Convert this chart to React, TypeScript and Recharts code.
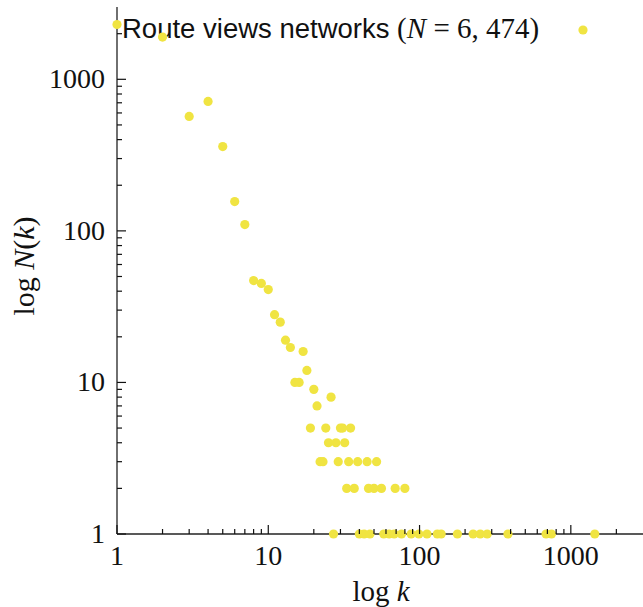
import { ScatterChart, Scatter, XAxis, YAxis, Customized } from 'recharts';

// degree k and number of networks N(k) with that degree
const degree = [
  1, 2, 3, 4, 5, 6, 7, 8, 9, 10,
  11, 12, 13, 14, 15, 16, 17, 18, 19, 20,
  21, 22, 23, 24, 25, 26, 27, 28, 29, 30,
  31, 32, 33, 34, 35, 37, 39, 40, 43, 45,
  46, 47, 50, 52, 56, 58, 63, 68, 69, 76,
  80, 88, 99, 112, 131, 139, 178, 226, 252, 280,
  384, 686, 745, 1440,
];
const count = [
  2300, 1900, 569, 715, 360, 156, 110, 47, 45, 41,
  28, 25, 19, 17, 10, 10, 16, 12, 5, 9,
  7, 3, 3, 5, 4, 8, 1, 4, 3, 5,
  5, 4, 2, 3, 5, 2, 3, 1, 1, 3,
  2, 1, 2, 3, 2, 1, 1, 1, 2, 1,
  2, 1, 1, 1, 1, 1, 1, 1, 1, 1,
  1, 1, 1, 1,
];

const majorTicks = [1, 10, 100, 1000];
const axisTicks = [
  1, 2, 3, 4, 5, 6, 7, 8, 9,
  10, 20, 30, 40, 50, 60, 70, 80, 90,
  100, 200, 300, 400, 500, 600, 700, 800, 900,
  1000, 2000,
];

const seriesName = 'Route views networks';
const totalN = '6, 474';

const points = degree.map((k, i) => ({ k, n: count[i] }));

const YELLOW = '#F0E442';
const SERIF = '"Liberation Serif", "DejaVu Serif", serif';
const SANS = '"Liberation Sans", "DejaVu Sans", sans-serif';

function XTick(props: any) {
  const { x, y, payload } = props;
  const major = majorTicks.includes(payload.value);
  return (
    <g>
      <path d={`M${x},${y}V${y - (major ? 9 : 5)}`} stroke="#111" strokeWidth={1.2} fill="none" />
      {major && (
        <text x={x} y={y + 31} textAnchor="middle" fontFamily={SERIF} fontSize={28} fill="#111">
          {payload.value}
        </text>
      )}
    </g>
  );
}

function YTick(props: any) {
  const { x, y, payload } = props;
  const major = majorTicks.includes(payload.value);
  return (
    <g>
      <path d={`M${x},${y}H${x + (major ? 9 : 5)}`} stroke="#111" strokeWidth={1.2} fill="none" />
      {major && (
        <text x={x - 12} y={y + 9} textAnchor="end" fontFamily={SERIF} fontSize={28} fill="#111">
          {payload.value}
        </text>
      )}
    </g>
  );
}

function Dot(props: any) {
  const { cx, cy } = props;
  return <circle cx={cx} cy={cy} r={4.6} fill={YELLOW} />;
}

function Overlay() {
  return (
    <g>
      <text x={122} y={38} fontFamily={SANS} fontSize={27.5} fill="#111">
        {seriesName} <tspan fontFamily={SERIF} fontSize={29}>(<tspan fontStyle="italic">N</tspan> = {totalN})</tspan>
      </text>
      <circle cx={583} cy={30} r={4.6} fill={YELLOW} />
      <text x={381} y={601} textAnchor="middle" fontFamily={SERIF} fontSize={29} fill="#111">
        log <tspan fontStyle="italic">k</tspan>
      </text>
      <text
        x={0}
        y={0}
        transform="translate(34, 266) rotate(-90)"
        textAnchor="middle"
        fontFamily={SERIF}
        fontSize={30}
        fill="#111"
      >
        log <tspan fontStyle="italic">N</tspan>(<tspan fontStyle="italic">k</tspan>)
      </text>
    </g>
  );
}

export default function App() {
  return (
    <div style={{ position: 'absolute', left: 0, top: 0, background: '#fff' }}>
      <ScatterChart width={643} height={607} margin={{ top: 7, right: 0, left: 0, bottom: 0 }}>
        <XAxis
          type="number"
          dataKey="k"
          scale="log"
          domain={[1, 3000]}
          ticks={axisTicks}
          interval={0}
          height={73}
          tickSize={0}
          tickMargin={0}
          tickLine={false}
          tick={<XTick />}
          axisLine={{ stroke: '#222', strokeWidth: 1.3 }}
        />
        <YAxis
          type="number"
          dataKey="n"
          scale="log"
          domain={[1, 3000]}
          ticks={axisTicks}
          interval={0}
          width={117}
          tickSize={0}
          tickMargin={0}
          tickLine={false}
          tick={<YTick />}
          axisLine={{ stroke: '#222', strokeWidth: 1.3 }}
        />
        <Scatter data={points} fill={YELLOW} shape={<Dot />} isAnimationActive={false} />
        <Customized component={<Overlay />} />
      </ScatterChart>
    </div>
  );
}
